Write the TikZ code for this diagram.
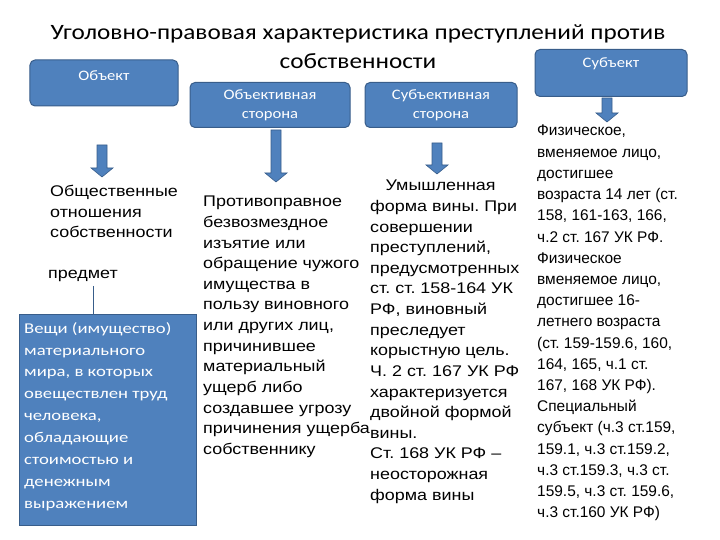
\documentclass[tikz,border=0pt]{standalone}
\usepackage{fontspec}
\setmainfont{Liberation Sans}
\newfontfamily\calfnt[FakeStretch=1.15]{Carlito}
\newfontfamily\calwide[FakeStretch=1.25]{Carlito}
\newfontfamily\widesans[FakeStretch=1.16]{Liberation Sans}
\definecolor{bfill}{HTML}{4F81BD}
\definecolor{bdraw}{HTML}{385D8A}
\begin{document}
\frenchspacing
\begin{tikzpicture}[x=1bp,y=-1bp,
  rbox/.style={draw=bdraw,fill=bfill,rounded corners=5bp,line width=1bp},
  btext/.style={text=white,font=\calfnt\fontsize{14.5}{19}\selectfont,align=center},
  barrow/.style={fill=bfill,draw=bdraw,line width=0.6bp},
  body/.style={anchor=north west,align=left,font=\widesans\fontsize{15.5}{20.7}\selectfont,inner sep=0pt}]
\useasboundingbox (0,0) rectangle (720,540);
\node[font=\calfnt\fontsize{22}{29}\selectfont,align=center] (title) at (358,47) {Уголовно-правовая характеристика преступлений против\\собственности};
\node[rbox,minimum width=148bp,minimum height=46bp] (obj) at (104,83) {};
\node[btext] at (104,76) {Объект};
\node[rbox,minimum width=160bp,minimum height=45bp] (os) at (270,105) {};
\node[btext] at (270,105) {Объективная\\сторона};
\node[rbox,minimum width=152bp,minimum height=45bp] (ss) at (441,105) {};
\node[btext] at (441,105) {Субъективная\\сторона};
\node[rbox,minimum width=152bp,minimum height=47bp] (sub) at (611,73) {};
\node[btext] at (611,64) {Субъект};
\newcommand{\barr}[4]{\filldraw[barrow] (#1-5,#2) -- (#1+5,#2) -- (#1+5,#3-9) -- (#1+11,#3-9) -- (#1,#3) -- (#1-11,#3-9) -- (#1-5,#3-9) -- cycle;}
\barr{102}{145}{177}{}
\barr{276}{130}{182}{}
\barr{437}{143}{174}{}
\barr{607}{98}{122}{}
\node[body] (rel) at (50,185) {Общественные\\отношения\\собственности};
\node[body] (pred) at (48,270) {предмет};
\node[draw=bdraw,fill=bfill,line width=1bp,minimum width=176bp,minimum height=210bp] (things) at (108,420) {};
\node[anchor=north west,align=left,text=white,font=\calwide\fontsize{15}{22}\selectfont,inner sep=0pt] at (24,322) {Вещи (имущество)\\материального\\мира, в которых\\овеществлен труд\\человека,\\обладающие\\стоимостью и\\денежным\\выражением};
\draw[bdraw,line width=0.6bp] (pred.south west)++(45,4) coordinate (p1) -- (p1 |- things.north);
\node[body] (ostext) at (203,196) {Противоправное\\безвозмездное\\изъятие или\\обращение чужого\\имущества в\\пользу виновного\\или других лиц,\\причинившее\\материальный\\ущерб либо\\создавшее угрозу\\причинения ущерба\\собственнику};
\node[body] (sstext) at (370,180) {\quad Умышленная\\форма вины. При\\совершении\\преступлений,\\предусмотренных\\ст. ст. 158-164 УК\\РФ, виновный\\преследует\\корыстную цель.\\Ч. 2 ст. 167 УК РФ\\характеризуется\\двойной формой\\вины.\\Ст. 168 УК РФ –\\неосторожная\\форма вины};
\node[body,font=\fontsize{15.5}{21.3}\selectfont] (subtext) at (537,125) {Физическое,\\вменяемое лицо,\\достигшее\\возраста 14 лет (ст.\\158, 161-163, 166,\\ч.2 ст. 167 УК РФ.\\Физическое\\вменяемое лицо,\\достигшее 16-\\летнего возраста\\(ст. 159-159.6, 160,\\164, 165, ч.1 ст.\\167, 168 УК РФ).\\Специальный\\субъект (ч.3 ст.159,\\159.1, ч.3 ст.159.2,\\ч.3 ст.159.3, ч.3 ст.\\159.5, ч.3 ст. 159.6,\\ч.3 ст.160 УК РФ)};
\end{tikzpicture}
\end{document}
